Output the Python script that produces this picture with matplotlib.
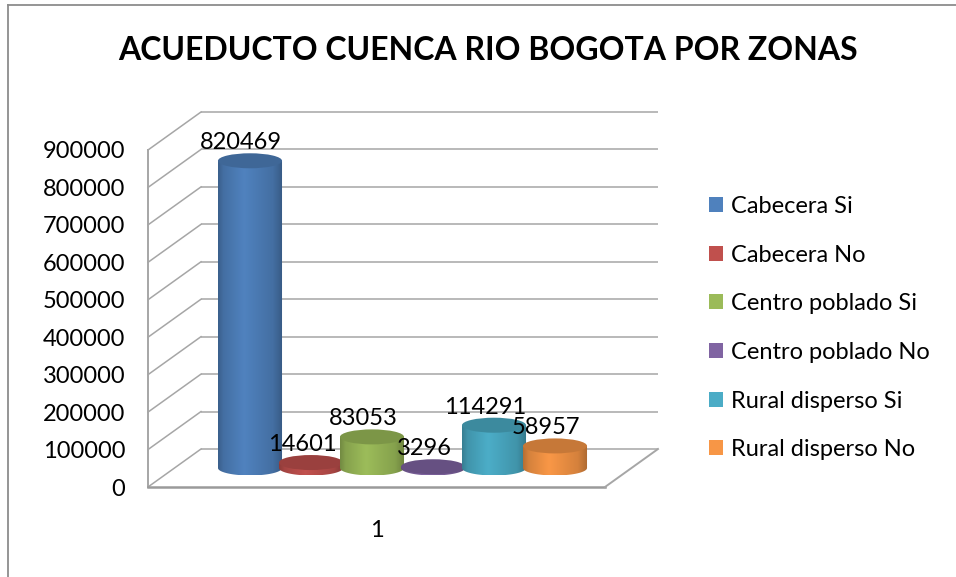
import numpy as np
import matplotlib
matplotlib.use("Agg")
import matplotlib.pyplot as plt
from matplotlib.patches import Ellipse, PathPatch, Patch
from matplotlib.path import Path
from matplotlib.lines import Line2D
import matplotlib.colors as mcolors

plt.rcParams['font.family'] = ['Lato', 'DejaVu Sans']

# ---- data ----
title = "ACUEDUCTO CUENCA RIO BOGOTA POR ZONAS"
series = ["Cabecera Si", "Cabecera No", "Centro poblado Si",
          "Centro poblado No", "Rural disperso Si", "Rural disperso No"]
values = [820469, 14601, 83053, 3296, 114291, 58957]
category = ["1"]
yticks = [0, 100000, 200000, 300000, 400000, 500000, 600000, 700000, 800000, 900000]
colors = ["#4F81BD", "#C0504D", "#9BBB59", "#8064A2", "#4BACC6", "#F79646"]

# ---- figure ----
W, H = 956, 577
fig = plt.figure(figsize=(W / 100, H / 100), dpi=100)
fig.patch.set_facecolor("white")

# front plane of plot: x px 148..605, y px 487 (0) .. 150 (900000)
ax = fig.add_axes([148 / W, (H - 487) / H, 457 / W, 337 / H])
unit_px = 61.0
xmin, xmax = -75.5 / unit_px, 5 + 76.5 / unit_px
ymax = yticks[-1]
px_per_val = 337.0 / ymax

# depth offset (back wall relative to front plane)
ddx = 53 / unit_px
ddy = 38 / px_per_val
mdx, mdy = ddx / 2, ddy / 2

grid_c = "#A6A6A6"
lw_g = 1.1
# back wall gridlines
for v in yticks:
    ax.plot([xmin + ddx, xmax + ddx], [v + ddy, v + ddy], color=grid_c, lw=lw_g,
            clip_on=False, zorder=0, solid_capstyle='butt')
    # left wall diagonals
    ax.plot([xmin, xmin + ddx], [v, v + ddy], color=grid_c, lw=lw_g, clip_on=False, zorder=0)
# left wall front edge
ax.plot([xmin, xmin], [0, ymax], color=grid_c, lw=1.4, clip_on=False, zorder=0)
# floor front and right edges
ax.plot([xmin, xmax], [0, 0], color="#9A9A9A", lw=1.8, clip_on=False, zorder=0)
ax.plot([xmax, xmax + ddx], [0, ddy], color=grid_c, lw=1.4, clip_on=False, zorder=0)


def shade(rgb, f):
    rgb = np.array(rgb)
    if f >= 1:
        return np.clip(rgb + (1 - rgb) * (f - 1), 0, 1)
    return np.clip(rgb * f, 0, 1)


bw = 1.05
eh = 15 / px_per_val
N = 80
prof_x = np.linspace(0, 1, N)
prof_f = np.interp(prof_x, [0, 0.08, 0.4, 0.85, 1], [0.74, 0.86, 1.01, 0.86, 0.70])

for i, (v, c) in enumerate(zip(values, colors)):
    rgb = mcolors.to_rgb(c)
    cx = i + mdx
    base = mdy
    top = mdy + v
    x0, x1 = cx - bw / 2, cx + bw / 2
    z = 2 + i
    grad = np.array([shade(rgb, f) for f in prof_f])[None, :, :]
    im = ax.imshow(grad, extent=(x0, x1, base - eh / 2, top), aspect='auto',
                   origin='lower', interpolation='bilinear', zorder=z)
    t = np.linspace(np.pi, 2 * np.pi, 40)
    verts = [(x0, top), (x0, base)]
    verts += list(zip(cx + bw / 2 * np.cos(t), base + eh / 2 * np.sin(t)))
    verts += [(x1, top), (x0, top)]
    codes = [Path.MOVETO] + [Path.LINETO] * (len(verts) - 2) + [Path.CLOSEPOLY]
    clip = PathPatch(Path(verts, codes), transform=ax.transData, facecolor='none',
                     edgecolor='none')
    ax.add_patch(clip)
    im.set_clip_path(clip)
    im.set_clip_on(True)
    ax.add_patch(Ellipse((cx, top), bw, eh, facecolor=shade(rgb, 0.8),
                         edgecolor='none', zorder=z + 0.5, clip_on=False))
    ax.annotate(str(v), xy=(cx, top), xytext=(-9 * 0.72, 18 * 0.72),
                textcoords='offset points', ha='center', va='center',
                fontsize=17, color='black', zorder=20, annotation_clip=False)

ax.set_xlim(xmin, xmax)
ax.set_ylim(0, ymax)
for s in ax.spines.values():
    s.set_visible(False)
ax.set_facecolor('none')
ax.set_yticks(yticks)
ax.set_yticklabels([str(v) for v in yticks])
ax.tick_params(axis='y', length=0, pad=16.5, labelsize=17)
ax.set_xticks([(xmin + xmax) / 2])
ax.set_xticklabels(category)
ax.tick_params(axis='x', length=0, pad=24, labelsize=17)

# title
fig.text(488 / W, 1 - 50 / H, title, ha='center', va='center', fontsize=23,
         fontweight='bold')

# legend
handles = [Patch(facecolor=c, edgecolor='none') for c in colors]
fig.legend(handles, series, loc='upper left', bbox_to_anchor=(709 / W, 1 - 196 / H),
           frameon=False, fontsize=17, handlelength=0.6, handleheight=0.6,
           handletextpad=0.35, labelspacing=1.17, borderaxespad=0, borderpad=0)

# outer border (top and left visible)
fig.add_artist(Line2D([8 / W, 1], [1 - 5 / H, 1 - 5 / H], transform=fig.transFigure,
                      color="#8C8C8C", lw=1.3))
fig.add_artist(Line2D([8 / W, 8 / W], [0, 1 - 5 / H], transform=fig.transFigure,
                      color="#8C8C8C", lw=1.3))

fig.savefig("out.png", dpi=100)
